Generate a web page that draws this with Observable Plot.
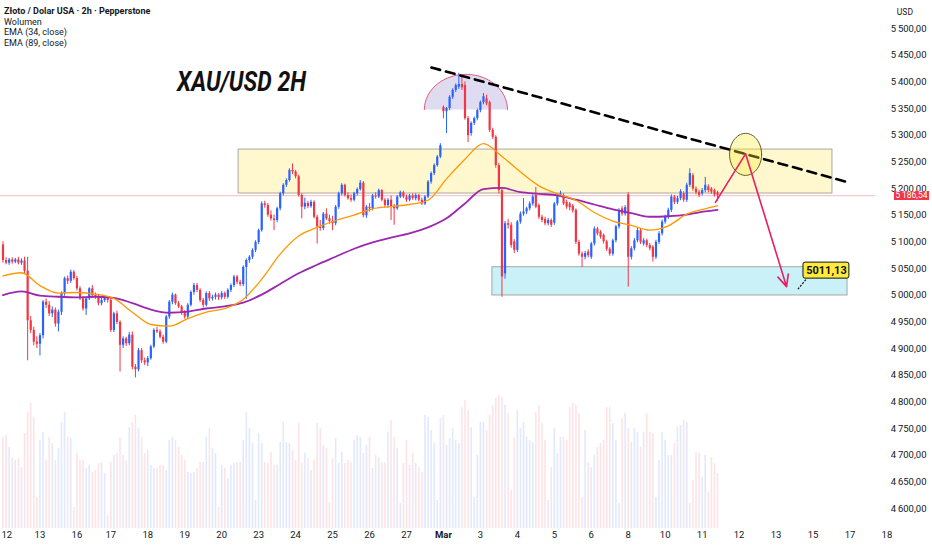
<!DOCTYPE html>
<html><head><meta charset="utf-8">
<script src="https://cdn.jsdelivr.net/npm/d3@7"></script>
<script src="https://cdn.jsdelivr.net/npm/@observablehq/plot@0.6"></script>
<style>
body{margin:0;background:#fff;}
#wrap{position:relative;width:932px;height:550px;overflow:hidden;background:#fff;font-family:"Liberation Sans Narrow","Roboto",sans-serif;color:#131722;}
#wrap svg{position:absolute;left:0;top:0;}
.leg{position:absolute;left:4px;font-size:9px;line-height:10.7px;white-space:nowrap;}
#title{position:absolute;left:177px;top:68px;font-size:28px;line-height:28px;font-weight:bold;font-style:italic;transform:scaleX(0.82);transform-origin:left top;white-space:nowrap;color:#111;}
#usd{position:absolute;right:19px;top:7px;font-size:8.5px;}
#plabel{position:absolute;left:894px;width:35px;height:9px;background:#f23645;color:#fff;font-size:8.5px;line-height:9px;text-align:center;white-space:nowrap;}
</style></head><body><div id="wrap"></div><script>
const bull = "#2962ff", bear = "#f23645";
const dayLabels = ["12","13","16","17","18","19","20","23","24","25","26","27","Mar","3","4","5","6","8","10","11","12","13","15","17","18"];
const dayStart = [0,12,24,35,47,59,71,83,95,107,119,131,143,155,167,179,191,203,215,227,239,251,263,275,287];
const priceTicks = d3.range(4600, 5501, 50);
const lastPrice = 5186.54;

const open = [
5094,5065,5060,5066,5062,5066,5060,5064,5045,4952,
4934,4912,4908,4924,4987,4981,4965,4972,4946,4968,
5003,5031,5026,5043,5031,5012,4993,4974,4993,5012,
4999,4996,4984,4990,4994,4990,4934,4965,4949,4906,
4918,4909,4925,4865,4860,4896,4877,4873,4881,4903,
4934,4931,4921,4912,4959,4987,5000,4984,4978,4968,
4959,4981,5005,5018,5009,4990,4981,5003,4993,4996,
5000,4995,5003,4996,5009,5018,5034,5024,5020,5052,
5065,5071,5084,5099,5121,5171,5168,5150,5143,5140,
5162,5190,5206,5215,5234,5231,5222,5187,5165,5172,
5166,5174,5146,5128,5125,5152,5143,5138,5134,5165,
5190,5206,5187,5181,5178,5190,5198,5210,5149,5165,
5162,5186,5184,5196,5178,5168,5178,5165,5162,5184,
5192,5184,5178,5186,5181,5187,5178,5171,5184,5212,
5228,5243,5259,5352,5344,5350,5371,5384,5390,5395,
5393,5331,5303,5322,5331,5346,5361,5368,5361,5309,
5296,5243,5196,5040,5134,5131,5100,5084,5137,5152,
5156,5162,5171,5187,5168,5146,5142,5134,5140,5135,
5171,5187,5187,5174,5171,5167,5159,5099,5077,5071,
5081,5071,5096,5124,5118,5112,5100,5086,5077,5102,
5128,5162,5152,5188,5071,5087,5102,5121,5096,5102,
5093,5090,5071,5099,5115,5137,5146,5159,5184,5174,
5181,5190,5178,5206,5224,5199,5193,5190,5196,5203,
5199,5196,5192];
const high = [
5100,5070,5069,5070,5069,5071,5068,5071,5071,4960,
4940,4922,4928,4990,4993,4988,4978,4976,4972,5006,
5034,5036,5047,5046,5035,5016,4997,4996,5014,5018,
5004,5000,4994,4998,4997,4994,4968,4970,4952,4922,
4921,4930,4931,4870,4900,4900,4882,4885,4906,4937,
4940,4935,4925,4962,4990,5004,5002,4988,4981,4971,
4984,5008,5022,5022,5012,4994,5006,5007,5000,5004,
5003,5007,5006,5012,5021,5037,5037,5028,5055,5068,
5074,5087,5102,5124,5175,5176,5172,5158,5150,5165,
5193,5209,5218,5237,5246,5234,5225,5190,5182,5176,
5178,5177,5150,5140,5155,5162,5150,5148,5168,5193,
5209,5208,5192,5188,5193,5201,5215,5213,5168,5172,
5189,5192,5199,5198,5181,5181,5186,5170,5187,5195,
5195,5188,5189,5190,5190,5189,5182,5187,5215,5231,
5246,5262,5284,5355,5352,5374,5387,5396,5416,5408,
5400,5335,5325,5334,5349,5364,5378,5375,5364,5313,
5299,5247,5200,5138,5142,5136,5104,5140,5156,5181,
5165,5175,5188,5202,5171,5150,5146,5144,5143,5174,
5190,5195,5190,5178,5174,5170,5162,5103,5081,5082,
5085,5099,5128,5127,5121,5115,5103,5089,5105,5131,
5162,5166,5168,5192,5091,5106,5125,5124,5106,5105,
5097,5093,5103,5119,5141,5150,5163,5188,5187,5185,
5198,5194,5210,5237,5228,5203,5197,5200,5221,5207,
5202,5199,5195];
const low = [
5060,5057,5056,5058,5059,5057,5056,5040,4877,4928,
4905,4900,4886,4918,4975,4960,4958,4940,4931,4962,
4998,5020,5022,5028,5008,4990,4970,4962,4990,4995,
4992,4980,4980,4986,4985,4930,4930,4945,4856,4900,
4904,4905,4860,4845,4856,4872,4868,4866,4878,4900,
4928,4918,4908,4909,4955,4982,4981,4975,4962,4955,
4955,4978,5000,5005,4986,4976,4978,4988,4989,4991,
4990,4991,4992,4993,5005,5014,5020,5016,5016,4992,
5060,5067,5080,5095,5118,5163,5146,5139,5121,5136,
5158,5186,5202,5212,5226,5218,5184,5143,5160,5162,
5163,5143,5096,5120,5121,5140,5133,5121,5130,5161,
5186,5184,5178,5174,5175,5186,5195,5145,5144,5156,
5158,5180,5181,5175,5164,5163,5140,5131,5159,5181,
5181,5174,5175,5178,5177,5175,5168,5168,5181,5208,
5224,5240,5256,5331,5303,5346,5367,5380,5386,5384,
5328,5286,5298,5318,5327,5342,5357,5355,5305,5292,
5238,5190,4996,5030,5124,5088,5078,5080,5133,5148,
5151,5158,5167,5162,5142,5136,5130,5130,5127,5131,
5167,5183,5168,5161,5158,5154,5095,5073,5052,5066,
5070,5067,5092,5111,5105,5096,5082,5073,5073,5098,
5124,5148,5148,5015,5066,5083,5098,5095,5092,5089,
5083,5062,5067,5095,5111,5133,5142,5155,5170,5170,
5177,5174,5174,5202,5195,5188,5183,5186,5192,5192,
5189,5184,5176];
const close = [
5065,5060,5066,5062,5066,5060,5064,5045,4952,4934,
4912,4908,4924,4987,4981,4965,4972,4946,4968,5003,
5031,5026,5043,5031,5012,4993,4974,4993,5012,4999,
4996,4984,4990,4994,4990,4934,4965,4949,4906,4918,
4909,4925,4865,4860,4896,4877,4873,4881,4903,4934,
4931,4921,4912,4959,4987,5000,4984,4978,4968,4959,
4981,5005,5018,5009,4990,4981,5003,4993,4996,5000,
4995,5003,4996,5009,5018,5034,5024,5020,5052,5065,
5071,5084,5099,5121,5171,5168,5150,5143,5140,5162,
5190,5206,5215,5234,5231,5222,5187,5165,5172,5166,
5174,5146,5128,5125,5152,5143,5138,5134,5165,5190,
5206,5187,5181,5178,5190,5198,5210,5149,5165,5162,
5186,5184,5196,5178,5168,5178,5165,5162,5184,5192,
5184,5178,5186,5181,5187,5178,5171,5184,5212,5228,
5243,5259,5280,5344,5350,5371,5384,5393,5395,5389,
5331,5299,5322,5331,5346,5361,5372,5359,5309,5296,
5243,5196,5034,5134,5131,5093,5084,5137,5152,5156,
5162,5171,5184,5165,5146,5140,5134,5140,5131,5171,
5187,5190,5171,5165,5164,5158,5099,5077,5071,5078,
5074,5096,5124,5115,5109,5100,5086,5077,5102,5128,
5159,5152,5164,5071,5087,5102,5121,5099,5102,5093,
5087,5071,5099,5115,5137,5146,5159,5184,5174,5181,
5194,5178,5206,5228,5199,5192,5187,5196,5206,5196,
5193,5188,5186.54];
const volume = [
91,93,81,70,68,70,61,95,116,125,
111,31,88,96,68,91,85,68,80,106,
116,91,90,21,75,68,68,60,63,56,
58,65,66,55,13,66,73,75,91,73,
68,101,106,113,100,91,75,78,63,60,
60,63,63,58,88,91,88,81,73,68,
56,55,56,60,66,66,91,100,80,75,
21,63,60,50,63,65,66,66,88,116,
100,85,28,95,85,66,65,76,63,63,
86,106,86,85,78,68,105,65,75,70,
58,68,105,100,83,80,26,70,90,65,
76,65,68,66,88,93,
91,75,83,91,60,73,71,66,66,96,
108,91,80,25,65,88,63,75,65,61,
56,113,111,98,85,28,110,113,83,90,
100,88,85,121,128,118,101,31,73,106,
106,98,113,123,130,133,131,123,115,38,
91,118,100,106,91,88,86,116,123,105,
88,28,61,100,75,91,91,88,121,125,
123,115,31,98,66,61,73,81,85,88,
121,121,105,88,25,110,115,100,86,100,
96,81,96,115,96,95,31,68,96,88,
73,73,85,101,103,108,106,25,48,76,
75,51,73,36,71,65,55];

const emaIdx = [0,6,12,18,24,30,36,42,48,54,60,66,72,78,84,90,96,102,108,114,120,126,132,138,144,150,156,162,168,174,180,186,192,198,204,210,216,222,228,232];
const ema34 = [5036,5042,5018,5004,5005,5002,4994,4968,4945,4942,4956,4968,4975,4992,5030,5077,5111,5127,5140,5150,5162,5166,5170,5178,5218,5255,5284,5260,5231,5205,5190,5178,5155,5139,5131,5122,5130,5152,5162,5168];
const ema89 = [5000,5007,4999,4997,4996,4997,4995,4985,4973,4967,4969,4975,4979,4986,5001,5021,5041,5057,5072,5087,5099,5108,5116,5127,5144,5172,5199,5201,5193,5190,5187,5179,5170,5161,5154,5147,5148,5151,5157,5160];

// drawings (bar index / price)
const resistZone = {x1: 76.5, x2: 269.3, y1: 5190.6, y2: 5273};
const supportZone = {x1: 158.9, x2: 274.2, y1: 4999.4, y2: 5052.4};
const trendX = [139.1, 275.2], trendY = [5426.9, 5210.3];
const dome = {cx: 150.3, base: 5348, rx: 13.5, ry: 66};
const ring = {cx: 241.1, cy: 5264, rx: 5.2, ry: 39.4};
const pathX = [231.3, 241.1, 254.4], pathY = [5174, 5265, 5016];
const target = {x: 258.1, y: 5011.13, text: "5011,13"};
const targetBox = {x1: 259.9, x2: 274.8, y1: 5031, y2: 5061};

const bars = close.map((c, i) => ({i, o: open[i], h: high[i], l: low[i], c, v: volume[i], up: c >= open[i]}));
const emaRows = emaIdx.map((x, k) => ({x, a: ema34[k], b: ema89[k]}));
const days = dayStart.map((idx, k) => ({idx, label: dayLabels[k]}));
const trend = trendX.map((x, k) => ({x, y: trendY[k]}));
const domePts = d3.range(180, -1, -6).map(a => ({x: dome.cx + dome.rx * Math.cos(a * Math.PI / 180), y: dome.base + dome.ry * Math.sin(a * Math.PI / 180)}));
const ringPts = d3.range(0, 361, 6).map(a => ({x: ring.cx + ring.rx * Math.cos(a * Math.PI / 180), y: ring.cy + ring.ry * Math.sin(a * Math.PI / 180)}));

const locale = d3.formatLocale({decimal: ",", thousands: "\u2009", grouping: [3], currency: ["", ""]});
const fmt = locale.format(",.2f");

const W = 932, H = 550;
const xDomain = [-0.81, 283.28];
const common = {width: W, height: H, marginLeft: 0, marginRight: 57, marginTop: 0, marginBottom: 22};
const font = "'Liberation Sans Narrow','Roboto',sans-serif";

const volPlot = Plot.plot({
  ...common,
  style: {background: "transparent", fontFamily: font},
  x: {domain: xDomain, axis: null},
  y: {domain: [0, 528], axis: null},
  marks: [
    Plot.ruleX(bars, {x: "i", y1: 0, y2: "v", stroke: d => d.up ? bull : bear, strokeOpacity: 0.14, strokeWidth: 1.6})
  ]
});

const mainPlot = Plot.plot({
  ...common,
  style: {background: "transparent", fontFamily: font, fontSize: "9.5px", color: "#131722"},
  x: {domain: xDomain, axis: null},
  y: {domain: [4562.5, 5552.5], axis: null},
  marks: [
    Plot.rect([resistZone], {x1: "x1", x2: "x2", y1: "y1", y2: "y2", fill: "#ffe866", fillOpacity: 0.32, stroke: "#a8a8a0", strokeWidth: 1}),
    Plot.rect([supportZone], {x1: "x1", x2: "x2", y1: "y1", y2: "y2", fill: "#5fd3e6", fillOpacity: 0.33, stroke: "#a8a8a0", strokeWidth: 1}),
    Plot.line(domePts, {x: "x", y: "y", fill: "#9d8fd2", fillOpacity: 0.32, stroke: null}),
    Plot.line(domePts, {x: "x", y: "y", stroke: "#e35d7a", strokeWidth: 1}),
    Plot.ruleY([lastPrice], {stroke: "#f23645", strokeOpacity: 0.35, strokeWidth: 1}),
    Plot.ruleX(bars, {x: "i", y1: "l", y2: "h", stroke: d => d.up ? bull : bear, strokeWidth: 1}),
    Plot.ruleX(bars, {x: "i", y1: "o", y2: "c", stroke: d => d.up ? bull : bear, strokeWidth: 2.2}),
    Plot.line(emaRows, {x: "x", y: "b", stroke: "#9c27b0", strokeWidth: 1.8, curve: "monotone-x"}),
    Plot.line(emaRows, {x: "x", y: "a", stroke: "#ff9800", strokeWidth: 1.3, curve: "monotone-x"}),
    Plot.line(trend, {x: "x", y: "y", stroke: "#000", strokeWidth: 2.6, strokeDasharray: "9 6"}),
    Plot.line(ringPts, {x: "x", y: "y", fill: "#ffeb3b", fillOpacity: 0.35, stroke: "#5f5a2a", strokeWidth: 1}),
    Plot.arrow([{x1: pathX[0], y1: pathY[0], x2: pathX[1], y2: pathY[1]}], {x1: "x1", y1: "y1", x2: "x2", y2: "y2", stroke: "#e91e63", strokeWidth: 1.6, headLength: 0}),
    Plot.arrow([{x1: pathX[1], y1: pathY[1], x2: pathX[2], y2: pathY[2]}], {x1: "x1", y1: "y1", x2: "x2", y2: "y2", stroke: "#e91e63", strokeWidth: 1.6, headLength: 12, headAngle: 50}),
    Plot.link([{x1: target.x, y1: target.y, x2: targetBox.x1 + 1, y2: targetBox.y1}], {x1: "x1", y1: "y1", x2: "x2", y2: "y2", stroke: "#111", strokeWidth: 1.2, strokeDasharray: "2 1.5"}),
    Plot.rect([targetBox], {x1: "x1", x2: "x2", y1: "y1", y2: "y2", fill: "#ffeb3b", stroke: "#111", strokeWidth: 1, rx: 2}),
    Plot.text([target], {x: (targetBox.x1 + targetBox.x2) / 2, y: (targetBox.y1 + targetBox.y2) / 2, text: "text", fontSize: 11, fontWeight: "bold", fill: "#111"}),
    Plot.axisY(priceTicks, {anchor: "right", tickSize: 0, tickPadding: 0, tickFormat: fmt, textAnchor: "end", dx: 51, fontSize: 9.5, label: null}),
    Plot.text(days.filter(d => d.label !== "Mar" && d.idx !== 0), {x: "idx", text: "label", frameAnchor: "bottom", dy: 9, fontSize: 9.5}),
    Plot.text(days.filter(d => d.idx === 0), {x: "idx", text: "label", frameAnchor: "bottom", dy: 9, fontSize: 9.5, textAnchor: "start", dx: -1.5}),
    Plot.text(days.filter(d => d.label === "Mar"), {x: "idx", text: "label", frameAnchor: "bottom", dy: 9, fontSize: 9.5, fontWeight: "bold"})
  ]
});

const wrap = document.getElementById("wrap");
wrap.appendChild(volPlot);
wrap.appendChild(mainPlot);

const legend = [["Złoto / Dolar USA · 2h · Pepperstone", true], ["Wolumen", false], ["EMA (34, close)", false], ["EMA (89, close)", false]];
legend.forEach(([t, b], k) => {
  const d = document.createElement("div");
  d.className = "leg";
  d.style.top = (6 + k * 10.7) + "px";
  if (b) d.style.fontWeight = "bold";
  d.textContent = t;
  wrap.appendChild(d);
});
const title = document.createElement("div");
title.id = "title"; title.textContent = "XAU/USD 2H"; wrap.appendChild(title);
const usd = document.createElement("div");
usd.id = "usd"; usd.textContent = "USD"; wrap.appendChild(usd);
const pl = document.createElement("div");
pl.id = "plabel";
pl.textContent = fmt(lastPrice);
pl.style.top = (mainPlot.scale("y").apply(lastPrice) - 4.5) + "px";
wrap.appendChild(pl);
</script></body></html>
